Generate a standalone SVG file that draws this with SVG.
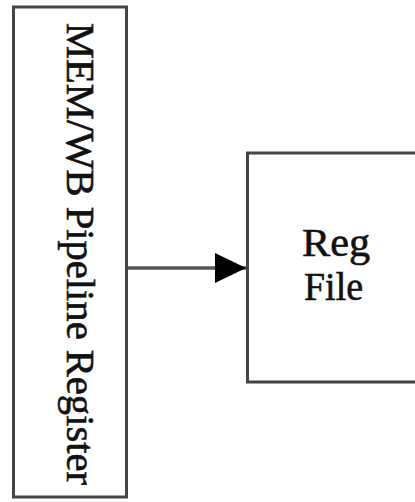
<svg xmlns="http://www.w3.org/2000/svg" width="415" height="502" viewBox="0 0 415 502">
<style>
.box{fill:#fff;stroke:#444;stroke-width:3}
.lbl{font-family:"Liberation Serif","Times New Roman",serif;font-size:40px;fill:#111;stroke:#111;stroke-width:0.6}
.conn{stroke:#555;stroke-width:3.5;fill:none}
</style>
<defs>
<marker id="ah" markerUnits="userSpaceOnUse" markerWidth="32" markerHeight="32" refX="31" refY="15" orient="auto">
<path d="M0,0 L31,15 L0,30 Z" fill="#000"/>
</marker>
</defs>
<rect width="415" height="502" fill="#fff"/>
<g id="memwb">
<rect class="box" x="13.5" y="7" width="113" height="490"/>
<text class="lbl" transform="translate(67,23) rotate(90)" x="0" y="0" textLength="462" lengthAdjust="spacingAndGlyphs">MEM/WB Pipeline Register</text>
</g>
<g id="regfile">
<rect class="box" x="247.5" y="153" width="200" height="229"/>
<text class="lbl" x="302" y="256" textLength="68" lengthAdjust="spacingAndGlyphs">Reg</text>
<text class="lbl" x="304" y="300" textLength="59" lengthAdjust="spacingAndGlyphs">File</text>
</g>
<g id="connectors">
<line class="conn" x1="128" y1="268" x2="246" y2="268" marker-end="url(#ah)"/>
</g>
</svg>
